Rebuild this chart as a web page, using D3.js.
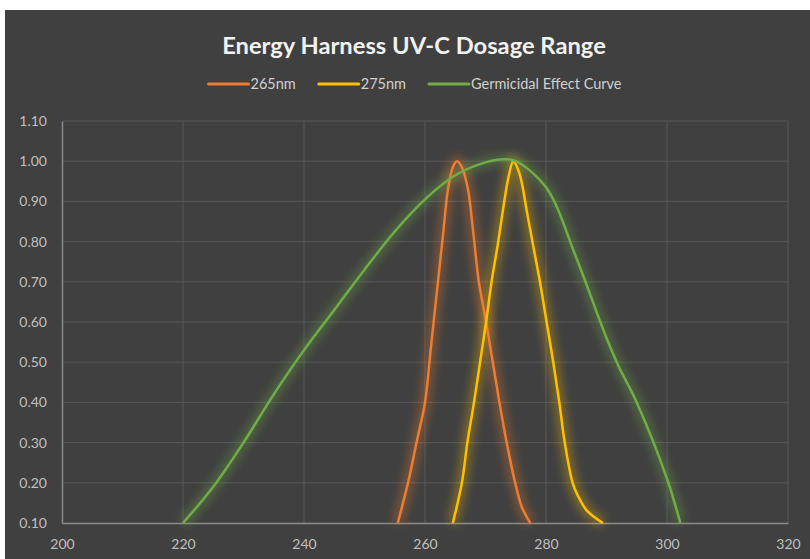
<!DOCTYPE html>
<html>
<head>
<meta charset="utf-8">
<script src="https://cdn.jsdelivr.net/npm/d3@7"></script>
<style>
  body { margin: 0; background: #fff; }
  svg { display: block; }
</style>
</head>
<body>
<div id="chart"></div>
<script>
// series (wavelength nm -> relative dose)
const seriesNames = ['265nm', '275nm', 'Germicidal Effect Curve'];
const seriesColors = ['#ED7D31', '#FFC000', '#70AD47'];

const wl265 = [255.5, 257.2, 258.6, 260.0, 261.0, 262.0, 263.0, 263.8, 264.6, 265.3, 266.1, 267.1, 268.0, 268.9, 270.1, 271.2, 272.3, 273.5, 274.9, 276.0, 277.4];
const val265 = [0.10, 0.20, 0.30, 0.40, 0.54, 0.68, 0.82, 0.93, 0.985, 1.00, 0.985, 0.93, 0.82, 0.70, 0.60, 0.50, 0.40, 0.30, 0.20, 0.14, 0.10];

const wl275 = [264.6, 266.1, 267.0, 268.1, 269.1, 270.1, 271.0, 272.0, 272.9, 273.8, 274.6, 275.6, 276.9, 278.0, 279.0, 280.1, 281.2, 282.2, 283.1, 284.4, 285.2, 286.8, 289.4];
const val275 = [0.10, 0.20, 0.30, 0.40, 0.50, 0.60, 0.70, 0.79, 0.88, 0.96, 1.00, 0.97, 0.87, 0.78, 0.70, 0.60, 0.50, 0.40, 0.30, 0.20, 0.17, 0.13, 0.10];

const wlGerm = [220, 225, 230, 235, 240, 245, 250, 255, 260, 265, 270, 273, 275, 280, 285, 290, 292, 295, 300, 302.2];
const valGerm = [0.10, 0.19, 0.30, 0.42, 0.53, 0.63, 0.73, 0.825, 0.905, 0.965, 0.997, 1.005, 1.00, 0.935, 0.76, 0.56, 0.49, 0.40, 0.21, 0.10];

const xTicks = [200, 220, 240, 260, 280, 300, 320];
const yTicks = [0.10, 0.20, 0.30, 0.40, 0.50, 0.60, 0.70, 0.80, 0.90, 1.00, 1.10];
const chartTitle = 'Energy Harness UV-C Dosage Range';

const width = 810, height = 559;
const margin = { top: 121, right: 22, bottom: 36, left: 62 };
const font = 'Lato, "Open Sans", sans-serif';

const svg = d3.select('#chart').append('svg')
  .attr('width', width)
  .attr('height', height);

// glow filter like the office "glow" effect
const defs = svg.append('defs');
const glow = defs.append('filter').attr('id', 'glow')
  .attr('x', '-50%').attr('y', '-50%').attr('width', '200%').attr('height', '200%');
glow.append('feGaussianBlur').attr('stdDeviation', 4);

svg.append('rect')
  .attr('x', 5).attr('y', 10)
  .attr('width', width - 5).attr('height', height - 10)
  .attr('fill', '#404040');

const x = d3.scaleLinear()
  .domain([200, 320])
  .range([margin.left, width - margin.right]);

const y = d3.scaleLinear()
  .domain([0.10, 1.10])
  .range([height - margin.bottom, margin.top]);

// gridlines
svg.append('g')
  .selectAll('line')
  .data(yTicks.slice(1))
  .enter().append('line')
  .attr('x1', x(200)).attr('x2', x(320))
  .attr('y1', d => y(d)).attr('y2', d => y(d))
  .attr('stroke', '#585858').attr('stroke-width', 1);

svg.append('g')
  .selectAll('line')
  .data(xTicks.slice(1))
  .enter().append('line')
  .attr('x1', d => x(d)).attr('x2', d => x(d))
  .attr('y1', y(0.10)).attr('y2', y(1.10))
  .attr('stroke', '#585858').attr('stroke-width', 1);

// Y-axis
const yAxis = svg.append('g')
  .attr('transform', `translate(${margin.left},0)`)
  .call(d3.axisLeft(y).tickValues(yTicks).tickFormat(d3.format('.2f')).tickSize(0).tickPadding(15));
yAxis.select('.domain').attr('stroke', '#8a8a8a').attr('stroke-width', 1.5);
yAxis.selectAll('text')
  .attr('fill', '#bfbfbf')
  .style('font-family', font)
  .style('font-size', '14px');

// X-axis
const xAxis = svg.append('g')
  .attr('transform', `translate(0,${y(0.10)})`)
  .call(d3.axisBottom(x).tickValues(xTicks).tickSize(0).tickPadding(16));
xAxis.select('.domain').attr('stroke', '#8a8a8a').attr('stroke-width', 1.5);
xAxis.selectAll('text')
  .attr('fill', '#bfbfbf')
  .style('font-family', font)
  .style('font-size', '14px');

// lines
const series = [
  { name: seriesNames[0], color: seriesColors[0], pts: d3.zip(wl265, val265) },
  { name: seriesNames[1], color: seriesColors[1], pts: d3.zip(wl275, val275) },
  { name: seriesNames[2], color: seriesColors[2], pts: d3.zip(wlGerm, valGerm) }
];

const line = d3.line()
  .x(d => x(d[0]))
  .y(d => y(d[1]))
  .curve(d3.curveCatmullRom.alpha(0.5));

series.forEach(s => {
  svg.append('path')
    .attr('d', line(s.pts))
    .attr('fill', 'none')
    .attr('stroke', s.color)
    .attr('stroke-width', 12)
    .attr('stroke-opacity', 0.3)
    .attr('filter', 'url(#glow)');
});
series.forEach(s => {
  svg.append('path')
    .attr('d', line(s.pts))
    .attr('fill', 'none')
    .attr('stroke', s.color)
    .attr('stroke-width', 2.5)
    .attr('stroke-linejoin', 'round');
});

// title
const title = svg.append('text')
  .attr('x', 414)
  .attr('y', 54)
  .attr('text-anchor', 'middle')
  .attr('fill', '#f2f2f2')
  .style('font-family', font)
  .style('font-weight', 'bold')
  .style('font-size', '21px')
  .text(chartTitle);
// scale font so the title spans about the same width as the reference
const tw = title.node().getComputedTextLength();
title.style('font-size', (21 * 384 / tw) + 'px');

// legend
const legend = svg.append('g');
let lx = 0;
series.forEach(s => {
  const g = legend.append('g').attr('transform', `translate(${lx},0)`);
  g.append('line')
    .attr('x1', 0).attr('x2', 40)
    .attr('y1', 0).attr('y2', 0)
    .attr('stroke', s.color).attr('stroke-width', 3).attr('stroke-linecap', 'round');
  const t = g.append('text')
    .attr('x', 42).attr('y', 5)
    .attr('fill', '#d0d0d0')
    .style('font-family', font)
    .style('font-size', '14.5px')
    .text(s.name);
  lx += 42 + t.node().getComputedTextLength() + 23;
});
const legendW = lx - 23;
legend.attr('transform', `translate(${415 - legendW / 2},84)`);
</script>
</body>
</html>
